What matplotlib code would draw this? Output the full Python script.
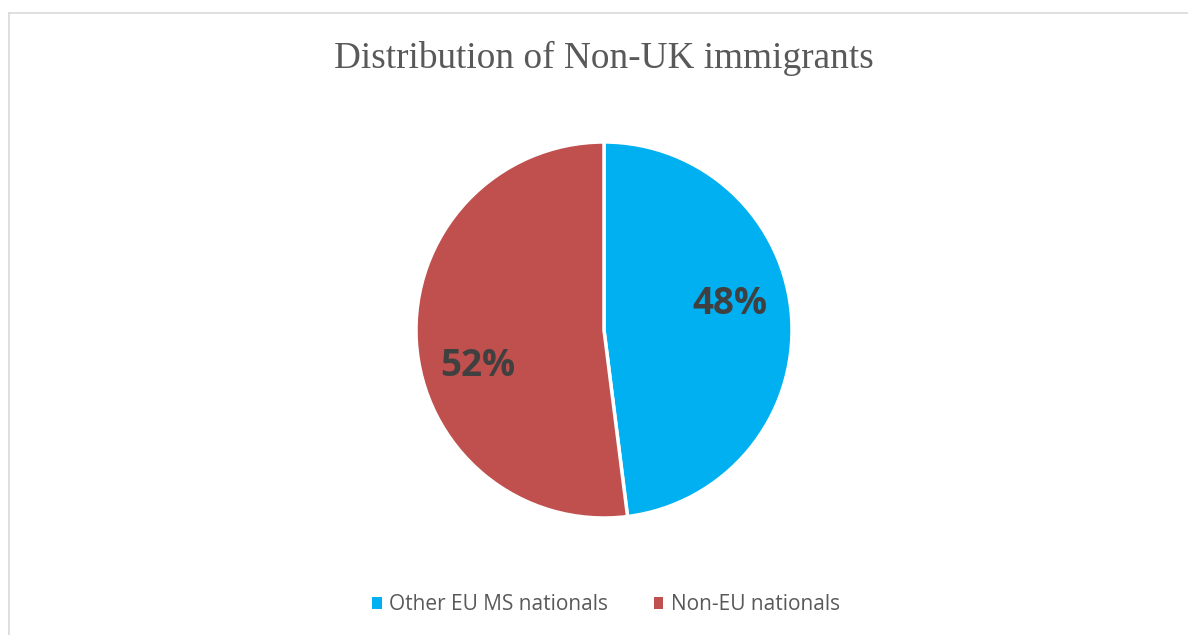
import matplotlib.pyplot as plt
from matplotlib.lines import Line2D
from matplotlib.patches import Patch

# dữ liệu
labels = ['Other EU MS nationals', 'Non-EU nationals']
values = [48, 52]
colors = ['#00B0F0', '#C0504D']

W, H = 1188, 635
fig = plt.figure(figsize=(W / 100, H / 100), dpi=100)

# khung viền của biểu đồ (trái và trên)
fig.add_artist(Line2D([9 / W, 9 / W], [0, 1 - 13 / H], color='#D9D9D9', lw=1.2))
fig.add_artist(Line2D([9 / W, 1], [1 - 13 / H, 1 - 13 / H], color='#D9D9D9', lw=1.2))

cx, cy, r = 604, 330, 188
ax = fig.add_axes([(cx - r) / W, (H - cy - r) / H, 2 * r / W, 2 * r / H])
wedges, texts, autotexts = ax.pie(values, colors=colors, startangle=90, counterclock=False,
                                  autopct='%d%%', pctdistance=0.68,
                                  wedgeprops=dict(edgecolor='white', linewidth=2.5))
for t in autotexts:
    t.set_fontsize(26.5)
    t.set_fontweight('bold')
    t.set_color('#404040')
    t.set_fontfamily('Open Sans')
autotexts[0].set_position((0.67, 0.14))
autotexts[1].set_position((-0.67, -0.19))
ax.set_xlim(-1, 1)
ax.set_ylim(-1, 1)
ax.set_aspect('equal')
ax.axis('off')

fig.text(cx / W, 1 - 58 / H, 'Distribution of Non-UK immigrants', ha='center', va='center',
         fontsize=26.8, family='Liberation Serif', color='#595959')

handles = [Patch(facecolor=c, edgecolor='none') for c in colors]
fig.legend(handles, labels, loc='center', bbox_to_anchor=(cx / W + 2 / W, 1 - 605 / H), ncol=2,
           frameon=False, handlelength=0.45, handleheight=0.45, handletextpad=0.35,
           columnspacing=2.2, prop={'family': 'Open Sans', 'size': 15},
           labelcolor='#595959')

plt.savefig('out.png', dpi=100)
